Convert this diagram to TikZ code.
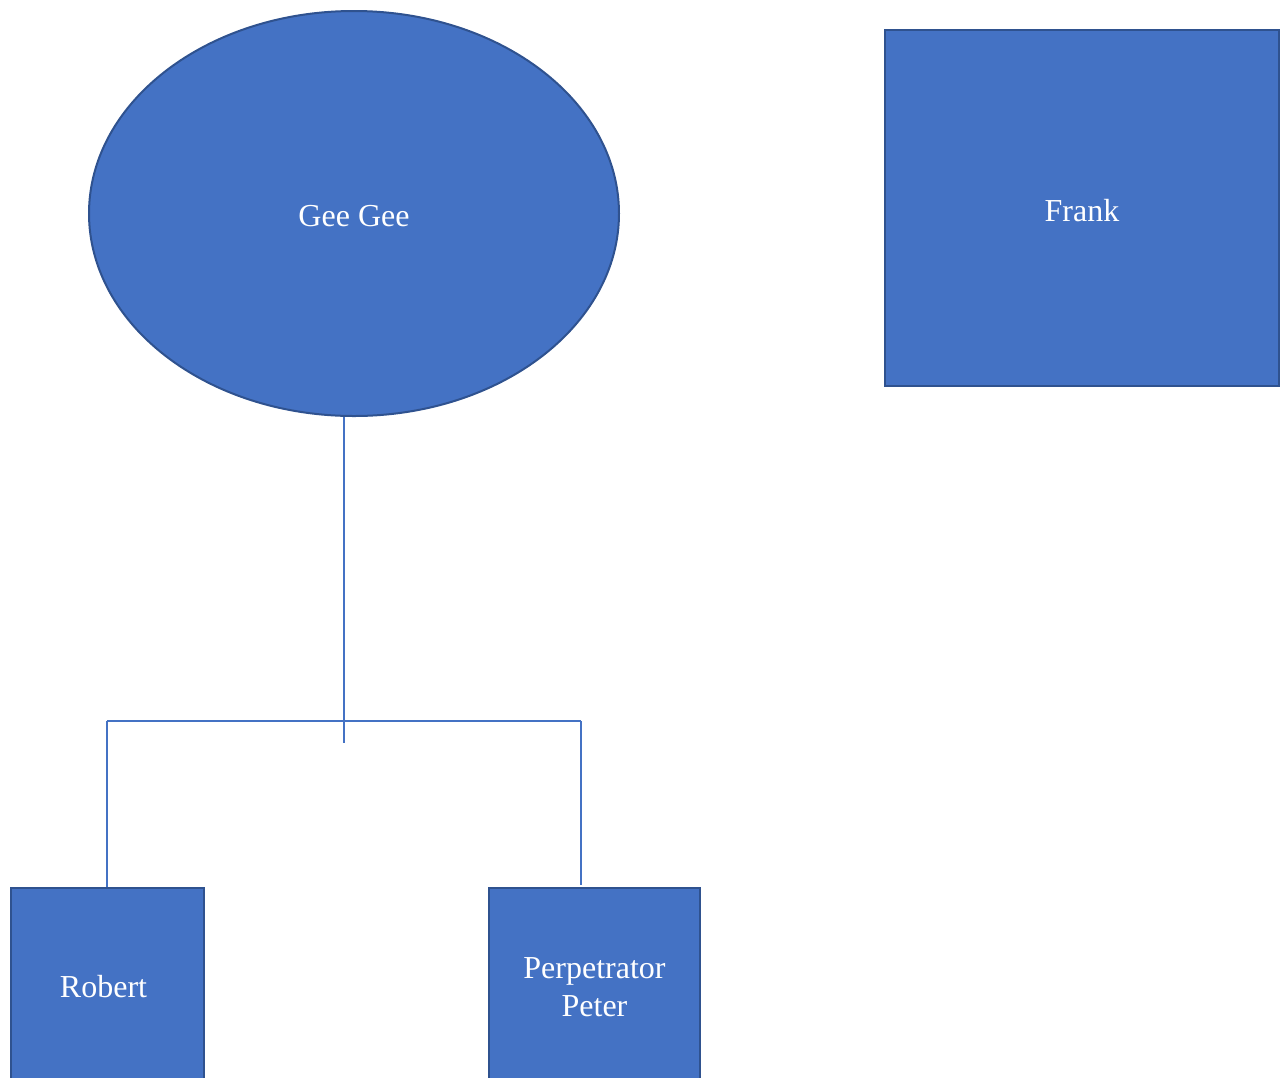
\documentclass[tikz,border=0pt]{standalone}
\usepackage{fontspec}
\setmainfont{Liberation Serif}
\usetikzlibrary{shapes.geometric}
\definecolor{fillblue}{HTML}{4472C4}
\definecolor{edgeblue}{HTML}{2F528F}
\newcommand{\lowertext}[1]{\raisebox{-3pt}[\height][\depth]{#1}}
\begin{document}
\begin{tikzpicture}[x=1pt,y=-1pt,
  shapebox/.style={draw=edgeblue,line width=2pt,fill=fillblue,text=white,inner sep=0pt,
    font=\fontsize{32}{38}\selectfont,align=center},
  conn/.style={draw=fillblue,line width=1.2pt}]
\useasboundingbox (0,0) rectangle (1280,1077);
\node[shapebox,ellipse,minimum width=530pt,minimum height=405pt] (gee) at (354,213.5) {\lowertext{Gee Gee}};
\node[shapebox,rectangle,minimum width=394pt,minimum height=356pt] (frank) at (1082,208) {\lowertext{Frank}};
\node[shapebox,rectangle,minimum width=193pt,minimum height=198pt] (robert) at (107.5,987) {\hspace*{-8pt}Robert};
\node[shapebox,rectangle,minimum width=211pt,minimum height=198pt] (peter) at (594.5,987) {Perpetrator\\Peter};
\coordinate (j) at (344,721);
\coordinate (tail) at (344,743);
\coordinate (jl) at (107,721);
\coordinate (jr) at (581,721);
\coordinate (pr) at (581,885);
\draw[conn] (gee.south -| j) -- (tail);
\draw[conn] (jl) -- (jr);
\draw[conn] (jl) -- (jl |- robert.north);
\draw[conn] (jr) -- (pr);
\end{tikzpicture}
\end{document}
